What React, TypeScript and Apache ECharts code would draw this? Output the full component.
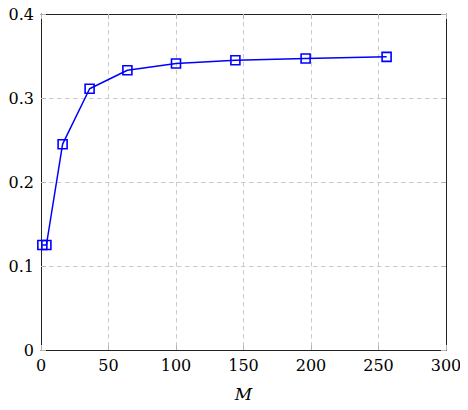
import React, { useEffect, useRef } from "react";
import * as echarts from "echarts";

const mValues = [1, 4, 16, 36, 64, 100, 144, 196, 256];
const yValues = [0.125, 0.125, 0.245, 0.311, 0.333, 0.341, 0.345, 0.347, 0.349];
const xAxisName = "M";

const FONT = "DejaVu Serif";

export default function App() {
  const ref = useRef<HTMLDivElement>(null);
  useEffect(() => {
    if (!ref.current) return;
    const chart = echarts.init(ref.current, undefined, { renderer: "svg" });
    const gridLine = {
      show: true,
      showMinLine: false,
      showMaxLine: false,
      lineStyle: { color: "#cccccc", type: [4.5, 3.5] as any, width: 1 },
    };
    const tick = { show: true, inside: true, length: 5, lineStyle: { color: "#b5b5b5", width: 1 } };
    const border = { show: true, onZero: false, lineStyle: { color: "#222", width: 1 } };
    chart.setOption({
      animation: false,
      backgroundColor: "#ffffff",
      textStyle: { fontFamily: FONT },
      grid: { left: 41, top: 14, right: 22, bottom: 60, show: false },
      xAxis: [
        {
          type: "value",
          min: 0,
          max: 300,
          interval: 50,
          position: "bottom",
          name: xAxisName,
          nameLocation: "middle",
          nameGap: 35,
          nameTextStyle: { fontFamily: FONT, fontSize: 17, fontStyle: "italic", color: "#000" },
          axisLine: border,
          axisTick: tick,
          axisLabel: { fontFamily: FONT, fontSize: 16, color: "#000", margin: 7 },
          splitLine: gridLine,
        },
        {
          type: "value",
          min: 0,
          max: 300,
          interval: 50,
          position: "top",
          axisLine: border,
          axisTick: tick,
          axisLabel: { show: false },
          splitLine: { show: false },
        },
      ],
      yAxis: [
        {
          type: "value",
          min: 0,
          max: 0.4,
          interval: 0.1,
          position: "left",
          axisLine: border,
          axisTick: tick,
          axisLabel: {
            fontFamily: FONT,
            fontSize: 16,
            color: "#000",
            margin: 7,
            formatter: (v: number) => (v === 0 ? "0" : v.toFixed(1)),
          },
          splitLine: gridLine,
        },
        {
          type: "value",
          min: 0,
          max: 0.4,
          interval: 0.1,
          position: "right",
          axisLine: border,
          axisTick: tick,
          axisLabel: { show: false },
          splitLine: { show: false },
        },
      ],
      series: [
        {
          type: "line",
          xAxisIndex: 0,
          yAxisIndex: 0,
          data: mValues.map((m, i) => [m, yValues[i]]),
          symbol: "rect",
          symbolSize: 9,
          showAllSymbol: true,
          lineStyle: { color: "#0000ff", width: 1.5 },
          itemStyle: { color: "rgba(0,0,0,0)", borderColor: "#0000ff", borderWidth: 1.6 },
          z: 5,
        },
      ],
    });
    return () => chart.dispose();
  }, []);
  return <div ref={ref} style={{ width: 468, height: 410, margin: -8 }} />;
}
